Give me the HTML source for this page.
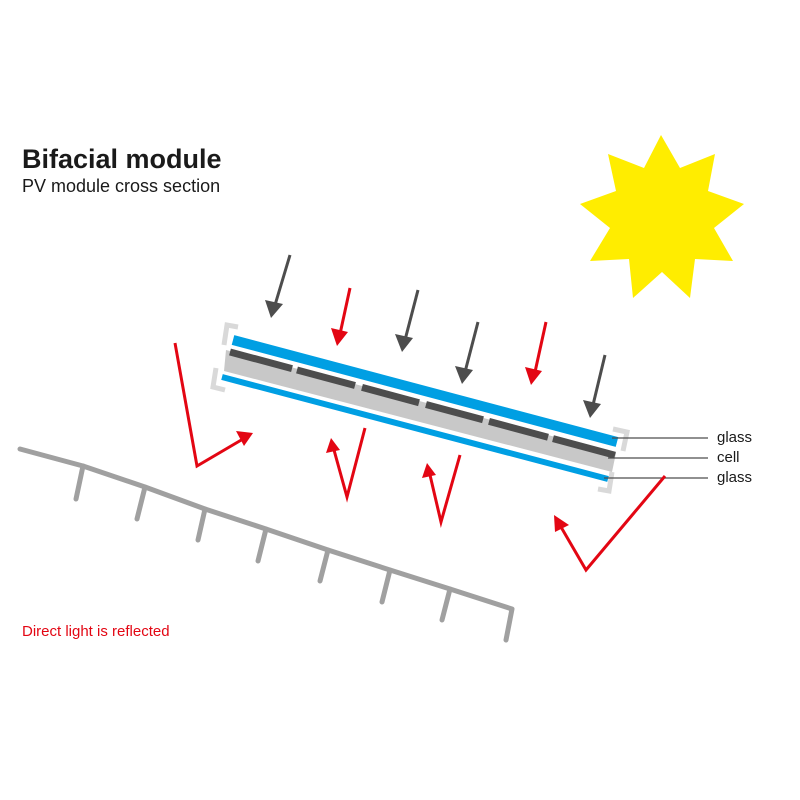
<!DOCTYPE html>
<html><head><meta charset="utf-8"><style>html,body{margin:0;padding:0;background:#fff}svg{display:block}</style></head>
<body>
<svg width="800" height="800" viewBox="0 0 800 800" xmlns="http://www.w3.org/2000/svg">
<text x="22" y="168" font-family="Liberation Sans, sans-serif" font-weight="bold" font-size="27" fill="#1a1a1a">Bifacial module</text>
<text x="22" y="192" font-family="Liberation Sans, sans-serif" font-size="18" fill="#1a1a1a">PV module cross section</text>

<circle cx="662" cy="218" r="51" fill="#ffed00"/>
<polygon fill="#ffed00" points="661,135 680,168 715,154 708,191 744,204 714,228 733,261 695,259 690,298 662,272 633,298 629,259 590,261 610,228 580,204 616,191 608,154 644,168"/>

<!-- brackets -->
<g fill="none" stroke="#d9d9d9" stroke-width="5">
<polyline points="238,327 227,325 224,345"/>
<polyline points="216,368 213,387 225,390"/>
<polyline points="613,429 627,432 623,451"/>
<polyline points="612,472 609,491 598,489"/>
</g>
<polygon fill="#c8c8c8" points="226,350 616,453 612,472 224,371"/>
<line x1="233" y1="340" x2="617" y2="442" stroke="#009fe3" stroke-width="10"/>
<line x1="222" y1="377" x2="608" y2="479" stroke="#009fe3" stroke-width="6"/>
<g stroke="#4d4d4d" stroke-width="7">
<line x1="230" y1="352" x2="292" y2="368.6"/>
<line x1="297" y1="370" x2="355" y2="385.5"/>
<line x1="362" y1="387.4" x2="419" y2="402.7"/>
<line x1="426" y1="404.5" x2="483" y2="419.8"/>
<line x1="489" y1="421.4" x2="548" y2="437.2"/>
<line x1="553" y1="438.6" x2="615" y2="455.2"/>
</g>
<g stroke="#4d4d4d" stroke-width="1.3">
<line x1="612" y1="438" x2="708" y2="438"/>
<line x1="608" y1="458" x2="708" y2="458"/>
<line x1="604" y1="478" x2="708" y2="478"/>
</g>
<g font-family="Liberation Sans, sans-serif" font-size="15" fill="#1a1a1a">
<text x="717" y="442">glass</text>
<text x="717" y="462">cell</text>
<text x="717" y="482">glass</text>
</g>

<g stroke-width="3" fill="none">
<line x1="290" y1="255" x2="275" y2="305" stroke="#4d4d4d"/>
<line x1="418" y1="290" x2="405" y2="340" stroke="#4d4d4d"/>
<line x1="478" y1="322" x2="465" y2="372" stroke="#4d4d4d"/>
<line x1="605" y1="355" x2="593" y2="405" stroke="#4d4d4d"/>
<line x1="350" y1="288" x2="340" y2="334" stroke="#e30613"/>
<line x1="546" y1="322" x2="535" y2="372" stroke="#e30613"/>
</g>
<g fill="#4d4d4d">
<polygon points="271,318 265,300 283,304"/>
<polygon points="402,352 395,334 413,338"/>
<polygon points="462,384 455,366 473,370"/>
<polygon points="590,418 583,400 601,404"/>
</g>
<g fill="#e30613">
<polygon points="337,346 331,328 348,332"/>
<polygon points="531,385 525,367 542,371"/>
</g>

<g stroke="#e30613" stroke-width="3" fill="none" stroke-linejoin="miter">
<polyline points="175,343 197,466 243,439"/>
<polyline points="365,428 347,497 334,450"/>
<polyline points="460,455 441,522 430,475"/>
<polyline points="665,476 586,570 561,527"/>
</g>
<g fill="#e30613">
<polygon points="253,433 236,431 244,446"/>
<polygon points="331,438 326,453 340,450"/>
<polygon points="427,463 422,478 436,475"/>
<polygon points="554,515 555,532 569,525"/>
</g>

<g stroke="#a0a0a0" stroke-width="5" fill="none" stroke-linecap="round" stroke-linejoin="round">
<polyline points="20,449 83,466 145,487 205,509 266,529 328,550 390,570 450,589 512,609 506,640"/>
<line x1="83" y1="466" x2="76" y2="499"/>
<line x1="145" y1="487" x2="137" y2="519"/>
<line x1="205" y1="509" x2="198" y2="540"/>
<line x1="266" y1="529" x2="258" y2="561"/>
<line x1="328" y1="550" x2="320" y2="581"/>
<line x1="390" y1="570" x2="382" y2="602"/>
<line x1="450" y1="589" x2="442" y2="620"/>
</g>
<text x="22" y="636" font-family="Liberation Sans, sans-serif" font-size="15" fill="#e30613">Direct light is reflected</text>
</svg>
</body></html>
